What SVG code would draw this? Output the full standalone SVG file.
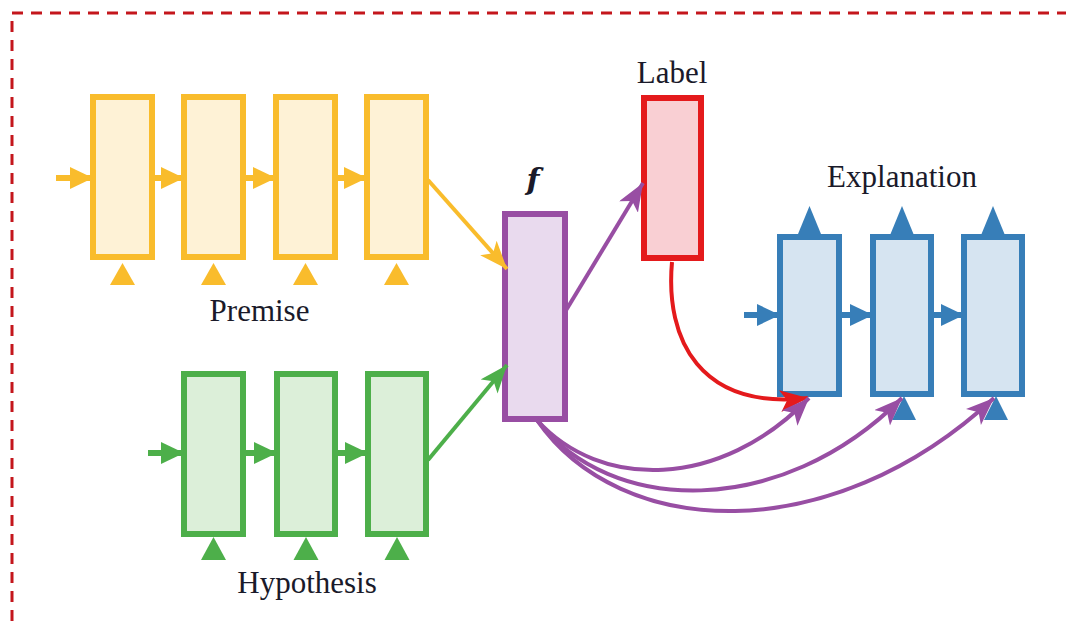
<svg xmlns="http://www.w3.org/2000/svg" width="1066" height="627" viewBox="0 0 1066 627">
  <defs>
    <style>
      .lbl { font-family: "Liberation Serif", "Times New Roman", serif; font-size: 31px; fill: #1a1a2a; text-anchor: middle; }
      .fn { font-family: "DejaVu Serif", "Liberation Serif", serif; font-size: 30px; font-style: italic; font-weight: bold; fill: #1a1a2a; text-anchor: middle; }
      .y rect { fill: #FEF2D6; stroke: #F9BC2C; stroke-width: 6; }
      .g rect { fill: #DCEFD9; stroke: #4DAF4A; stroke-width: 6; }
      .p rect { fill: #E9DAEE; stroke: #984EA3; stroke-width: 6; }
      .r rect { fill: #F9CFD3; stroke: #E41A1C; stroke-width: 6; }
      .b rect { fill: #D6E4F1; stroke: #377EB8; stroke-width: 6; }
      .y polygon { fill: #F9BC2C; }
      .g polygon { fill: #4DAF4A; }
      .b polygon { fill: #377EB8; }
      .ln { fill: none; stroke-width: 6; }
      .cy { stroke: #F9BC2C; }
      .cg { stroke: #4DAF4A; }
      .cp { stroke: #984EA3; }
      .cr { stroke: #E41A1C; }
      .cb { stroke: #377EB8; }
    </style>
    <!-- solid triangular heads for recurrent links -->
    <marker id="hy" markerUnits="userSpaceOnUse" markerWidth="26" markerHeight="24" refX="22" refY="11" orient="auto">
      <path d="M0,0 L23,11 L0,22 z" fill="#F9BC2C"/>
    </marker>
    <marker id="hg" markerUnits="userSpaceOnUse" markerWidth="26" markerHeight="24" refX="22" refY="11" orient="auto">
      <path d="M0,0 L23,11 L0,22 z" fill="#4DAF4A"/>
    </marker>
    <marker id="hb" markerUnits="userSpaceOnUse" markerWidth="26" markerHeight="24" refX="22" refY="11" orient="auto">
      <path d="M0,0 L23,11 L0,22 z" fill="#377EB8"/>
    </marker>
    <!-- stealth heads for diagonal and curved links -->
    <marker id="sy" markerUnits="userSpaceOnUse" markerWidth="30" markerHeight="24" refX="28" refY="11" orient="auto">
      <path d="M0,0 L28,11 L0,22 L7,11 z" fill="#F9BC2C"/>
    </marker>
    <marker id="sg" markerUnits="userSpaceOnUse" markerWidth="30" markerHeight="24" refX="28" refY="11" orient="auto">
      <path d="M0,0 L28,11 L0,22 L7,11 z" fill="#4DAF4A"/>
    </marker>
    <marker id="sp" markerUnits="userSpaceOnUse" markerWidth="30" markerHeight="24" refX="28" refY="11" orient="auto">
      <path d="M0,0 L28,11 L0,22 L7,11 z" fill="#984EA3"/>
    </marker>
    <marker id="sr" markerUnits="userSpaceOnUse" markerWidth="30" markerHeight="24" refX="28" refY="11" orient="auto">
      <path d="M0,0 L28,11 L0,22 L7,11 z" fill="#E41A1C"/>
    </marker>
  </defs>

  <rect width="1066" height="627" fill="#ffffff"/>

  <!-- dashed frame -->
  <path d="M12,640 L12,13 L1080,13" fill="none" stroke="#C4161C" stroke-width="3" stroke-dasharray="11 8"/>

  <!-- premise encoder -->
  <g id="premise" class="y">
    <rect x="93" y="97" width="59" height="160"/>
    <rect x="184" y="97" width="59" height="160"/>
    <rect x="276" y="97" width="59" height="160"/>
    <rect x="367" y="97" width="59" height="160"/>
    <polygon points="122.5,263 110,285 135,285"/>
    <polygon points="213.5,263 201,285 226,285"/>
    <polygon points="305.5,263 293,285 318,285"/>
    <polygon points="396.5,263 384,285 409,285"/>
    <text class="lbl" x="259.5" y="321">Premise</text>
  </g>

  <!-- hypothesis encoder -->
  <g id="hypothesis" class="g">
    <rect x="184" y="374" width="59" height="160"/>
    <rect x="277" y="374" width="58" height="160"/>
    <rect x="368" y="374" width="58" height="160"/>
    <polygon points="213.5,537 201,560 226,560"/>
    <polygon points="306,537 293.5,560 318.5,560"/>
    <polygon points="397,537 384.5,560 409.5,560"/>
    <text class="lbl" x="307" y="593">Hypothesis</text>
  </g>

  <!-- combination function -->
  <g id="f" class="p">
    <rect x="505" y="214" width="60" height="205"/>
    <text class="fn" x="533" y="190">f</text>
  </g>

  <!-- label classifier -->
  <g id="label" class="r">
    <rect x="644" y="98" width="57" height="160"/>
    <text class="lbl" x="672" y="83">Label</text>
  </g>

  <!-- explanation decoder -->
  <g id="explanation" class="b">
    <rect x="780" y="237" width="59" height="157"/>
    <rect x="873" y="237" width="58" height="157"/>
    <rect x="964" y="237" width="58" height="157"/>
    <polygon points="809.5,206 798,234 821,234"/>
    <polygon points="902,206 890.5,234 913.5,234"/>
    <polygon points="993,206 981.5,234 1004.5,234"/>
    <polygon points="904,396 892,420 916,420"/>
    <polygon points="996,396 984,420 1008,420"/>
    <text class="lbl" x="902" y="187">Explanation</text>
  </g>

  <g id="connectors" class="ln">
    <!-- premise recurrence -->
    <line class="cy" x1="56" y1="178" x2="92" y2="178" marker-end="url(#hy)"/>
    <line class="cy" x1="155" y1="178" x2="183" y2="178" marker-end="url(#hy)"/>
    <line class="cy" x1="246" y1="178" x2="275" y2="178" marker-end="url(#hy)"/>
    <line class="cy" x1="338" y1="178" x2="366" y2="178" marker-end="url(#hy)"/>
    <!-- hypothesis recurrence -->
    <line class="cg" x1="148" y1="453" x2="183" y2="453" marker-end="url(#hg)"/>
    <line class="cg" x1="246" y1="453" x2="276" y2="453" marker-end="url(#hg)"/>
    <line class="cg" x1="338" y1="453" x2="367" y2="453" marker-end="url(#hg)"/>
    <!-- explanation recurrence -->
    <line class="cb" x1="744" y1="315" x2="779" y2="315" marker-end="url(#hb)"/>
    <line class="cb" x1="842" y1="315" x2="872" y2="315" marker-end="url(#hb)"/>
    <line class="cb" x1="934" y1="315" x2="963" y2="315" marker-end="url(#hb)"/>
    <!-- encoders into f, f into label -->
    <line class="cy" stroke-width="4" x1="428" y1="180" x2="507" y2="269" marker-end="url(#sy)"/>
    <line class="cg" stroke-width="4" x1="428" y1="460" x2="507" y2="365" marker-end="url(#sg)"/>
    <line class="cp" stroke-width="4" x1="565" y1="312" x2="643" y2="183" marker-end="url(#sp)"/>
    <!-- label into first decoder step -->
    <path class="cr" stroke-width="4" d="M672,262 C665,340 700,410 808,398" marker-end="url(#sr)"/>
    <!-- f into every decoder step -->
    <path class="cp" stroke-width="4" d="M537,420 C600,490 720,490 809,398" marker-end="url(#sp)"/>
    <path class="cp" stroke-width="4" d="M537,420 C610,515 780,520 902,398" marker-end="url(#sp)"/>
    <path class="cp" stroke-width="4" d="M537,420 C620,540 830,550 994,398" marker-end="url(#sp)"/>
  </g>
</svg>
